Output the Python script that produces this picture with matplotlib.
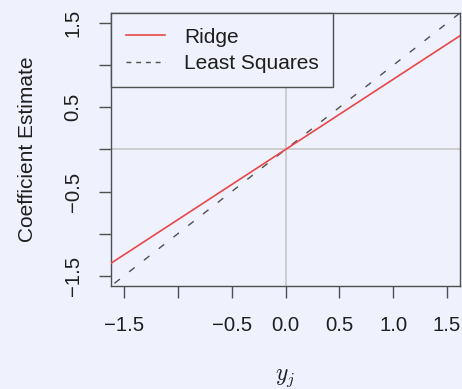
import numpy as np
import matplotlib
matplotlib.use("Agg")
import matplotlib.pyplot as plt

# ridge vs least squares estimate for one coefficient (orthonormal design)
y_j = np.array([-2.0, 2.0])
lam = 0.2
ls_est = y_j
ridge_est = y_j / (1 + lam)

x_ticks = [-1.5, -1.0, -0.5, 0.0, 0.5, 1.0, 1.5]
x_ticklabels = ["\u22121.5", "", "\u22120.5", "0.0", "0.5", "1.0", "1.5"]
y_ticks = [-1.5, -1.0, -0.5, 0.0, 0.5, 1.0, 1.5]
y_ticklabels = ["\u22121.5", "", "\u22120.5", "", "0.5", "", "1.5"]

BG = "#eff1fc"
AX = "#505050"
TXT = "#1e1e1e"

plt.rcParams["font.family"] = ["Liberation Sans", "DejaVu Sans"]
plt.rcParams["mathtext.fontset"] = "cm"

fig = plt.figure(figsize=(4.62, 3.89), dpi=100, facecolor=BG)
ax = fig.add_axes([0.2403, 0.2648, 0.7554, 0.7018], facecolor=BG)

ax.axhline(0, color="#c4c4c4", lw=1.1, zorder=1)
ax.axvline(0, color="#c4c4c4", lw=1.1, zorder=1)

ax.plot(y_j, ridge_est, color="#e8474a", lw=1.2, label="Ridge", zorder=3)
ax.plot(y_j, ls_est, color="#505050", lw=1.0, ls=(0, (5, 8.5)),
        label="Least Squares", zorder=2)

ax.set_xlim(-1.62, 1.62)
ax.set_ylim(-1.62, 1.62)

ax.set_xticks(x_ticks)
ax.set_xticklabels(x_ticklabels)
ax.set_yticks(y_ticks)
ax.set_yticklabels(y_ticklabels, rotation=90, va="center")
ax.tick_params(axis="both", length=8.5, width=1.0, color=AX,
               labelsize=14.6, labelcolor=TXT)
ax.tick_params(axis="x", pad=13)
ax.tick_params(axis="y", pad=12)

for s in ax.spines.values():
    s.set_color(AX)
    s.set_linewidth(1.0)

ax.set_ylabel("Coefficient Estimate", fontsize=15, color=TXT, labelpad=19)
ax.set_xlabel("$y_j$", fontsize=17, color=TXT, labelpad=23)

leg = ax.legend(loc="upper left", bbox_to_anchor=(0, 1), borderaxespad=0,
                fancybox=False, edgecolor=AX, facecolor=BG, framealpha=1,
                fontsize=15, handlelength=1.9, handletextpad=0.9,
                borderpad=0.7, labelspacing=0.35)
leg.get_frame().set_linewidth(1.0)
leg.get_lines()[1].set_dashes((3.5, 3.5))
for t in leg.get_texts():
    t.set_color(TXT)

fig.savefig("out.png", dpi=100, facecolor=BG)
